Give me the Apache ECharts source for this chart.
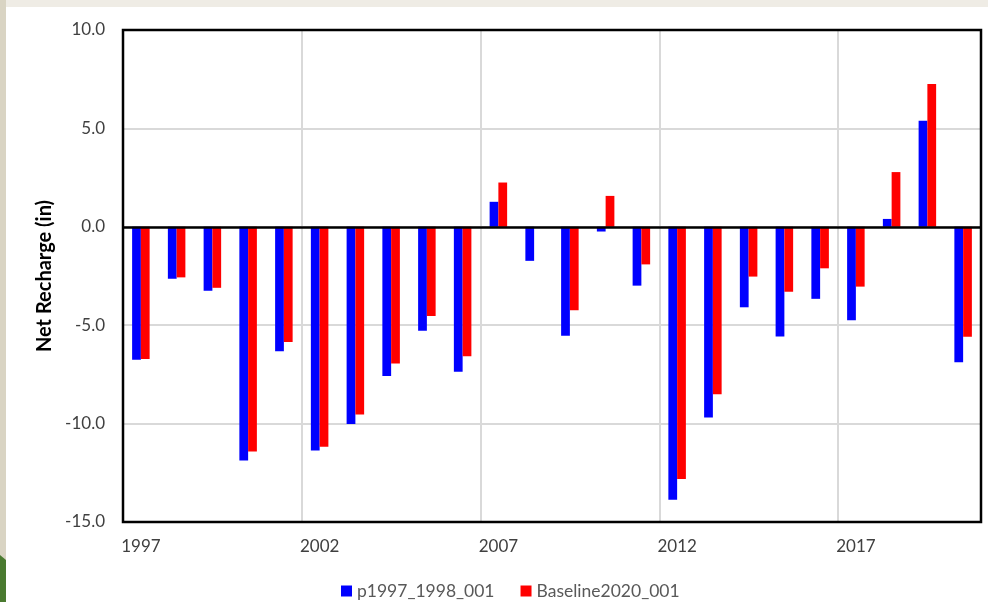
<!DOCTYPE html>
<html>
<head>
<meta charset="utf-8">
<script src="https://cdn.jsdelivr.net/npm/echarts@6/dist/echarts.min.js"></script>
<style>
  html, body { margin: 0; padding: 0; background: #ffffff; }
  #chart { width: 988px; height: 602px; }
</style>
</head>
<body>
<div id="chart"></div>
<script>
const years = ['1997','1998','1999','2000','2001','2002','2003','2004','2005','2006','2007','2008',
               '2009','2010','2011','2012','2013','2014','2015','2016','2017','2018','2019','2020'];
const p1997_1998_001 = [-6.75, -2.64, -3.25, -11.88, -6.33, -11.37, -10.02, -7.58, -5.28, -7.36, 1.27, -1.73,
                        -5.53, -0.24, -2.99, -13.87, -9.69, -4.09, -5.58, -3.66, -4.75, 0.40, 5.39, -6.88];
const baseline2020_001 = [-6.72, -2.57, -3.10, -11.42, -5.85, -11.17, -9.54, -6.94, -4.53, -6.58, 2.25, 0,
                          -4.24, 1.57, -1.91, -12.82, -8.51, -2.53, -3.30, -2.11, -3.04, 2.78, 7.25, -5.59];
const seriesNames = ['p1997_1998_001', 'Baseline2020_001'];
const yTicks = { min: -15, max: 10, interval: 5 };

const FONT = 'Lato, "Open Sans", sans-serif';
const GRID = { left: 123, right: 7, top: 30, bottom: 80 };
const W = 988, H = 602;
const chart = echarts.init(document.getElementById('chart'));
chart.setOption({
  backgroundColor: '#ffffff',
  animation: false,
  graphic: [
    { type: 'rect', left: 0, top: 0, shape: { width: W, height: 7 }, style: { fill: '#efece5' }, z: -10 },
    { type: 'rect', left: 0, top: 0, shape: { width: 6, height: H }, style: { fill: '#d9d4c3' }, z: -10 },
    { type: 'polygon', shape: { points: [[0, 555], [6, 560], [6, H], [0, H]] }, style: { fill: '#4a7a30' }, z: -9 },
    { type: 'rect', z: 100, silent: true,
      shape: { x: GRID.left, y: GRID.top, width: W - GRID.left - GRID.right, height: H - GRID.top - GRID.bottom },
      style: { fill: 'none', stroke: '#000000', lineWidth: 2.5 } }
  ],
  grid: Object.assign({ show: false }, GRID),
  legend: {
    top: 577, left: 336,
    icon: 'rect', itemWidth: 11, itemHeight: 11, itemGap: 26,
    textStyle: { color: '#595959', fontSize: 17.5, fontFamily: FONT },
    data: seriesNames
  },
  xAxis: {
    type: 'category',
    data: years,
    boundaryGap: true,
    axisLine: { show: false, onZero: false },
    axisTick: { show: false },
    axisLabel: { interval: 4, color: '#404040', fontSize: 17, fontFamily: FONT, margin: 16 },
    splitLine: { show: true, interval: 4, lineStyle: { color: '#d9d9d9', width: 2 } }
  },
  yAxis: {
    type: 'value',
    min: yTicks.min, max: yTicks.max, interval: yTicks.interval,
    axisLine: { show: false },
    axisTick: { show: false },
    axisLabel: { color: '#404040', fontSize: 17, fontFamily: FONT, margin: 18,
                 formatter: v => v.toFixed(1) },
    splitLine: { show: true, lineStyle: { color: '#d9d9d9', width: 2 } },
    name: 'Net Recharge (in)',
    nameLocation: 'middle',
    nameRotate: 90,
    nameGap: 66,
    nameTextStyle: { color: '#000000', fontSize: 20, fontWeight: 'bold', fontFamily: FONT }
  },
  series: [
    {
      name: seriesNames[0], type: 'bar', data: p1997_1998_001,
      itemStyle: { color: '#0000ff' },
      barGap: '0%', barCategoryGap: '51%',
      markLine: {
        silent: true, symbol: 'none', label: { show: false },
        lineStyle: { color: '#000000', width: 2.5, type: 'solid' },
        data: [{ yAxis: 0 }], z: 10
      }
    },
    {
      name: seriesNames[1], type: 'bar', data: baseline2020_001,
      itemStyle: { color: '#ff0000' },
      barGap: '0%', barCategoryGap: '51%'
    }
  ]
});
</script>
</body>
</html>
